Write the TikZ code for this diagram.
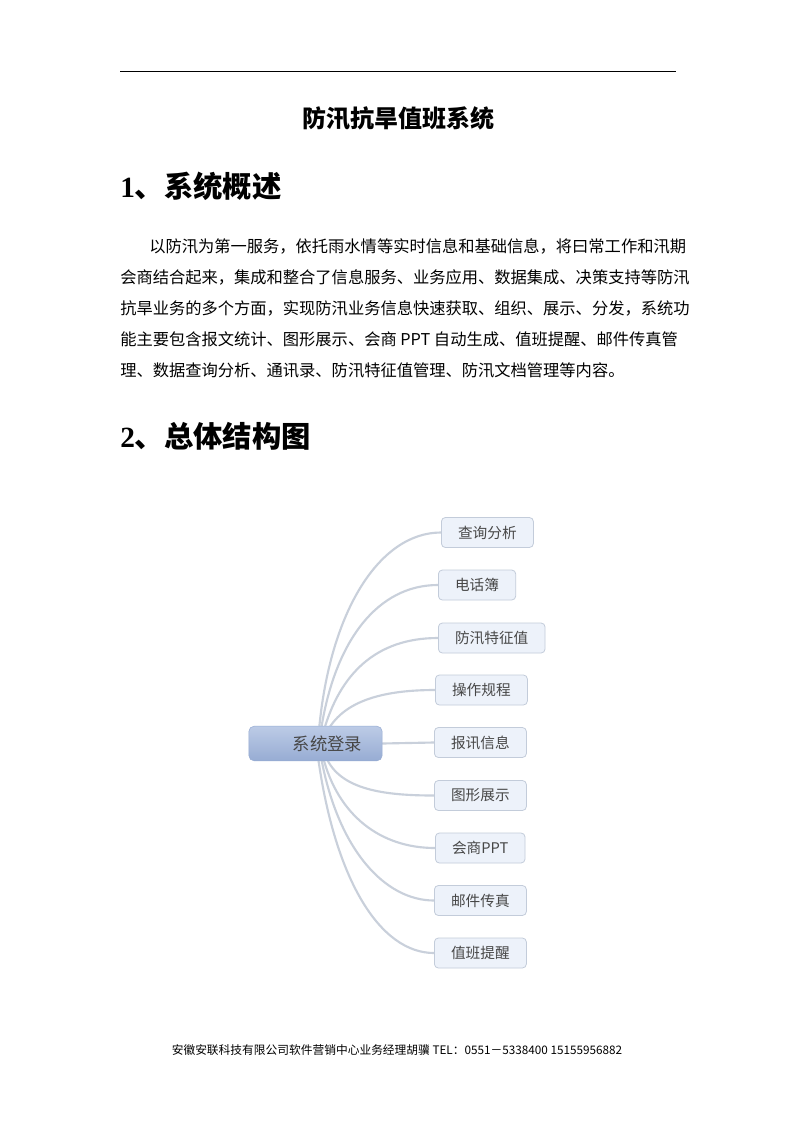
\documentclass[tikz,border=0pt]{standalone}
\usepackage{fontspec}
\setmainfont{Liberation Serif}
\newfontfamily\cjk{Noto Sans CJK SC}
\usetikzlibrary{positioning,backgrounds}
\definecolor{LinkGrey}{HTML}{C9D0DB}
\definecolor{LeafFill}{HTML}{EDF2FA}
\definecolor{LeafLine}{HTML}{C3CCDA}
\definecolor{RootTop}{HTML}{BCCBE6}
\definecolor{RootBottom}{HTML}{97ACD3}
\definecolor{TextGrey}{HTML}{474747}

\begin{document}
\begin{tikzpicture}[x=0.75pt,y=-0.75pt,
    heading/.style={anchor=west, inner sep=0pt, font=\fontsize{22}{22}\selectfont\bfseries},
    bodyline/.style={anchor=west, inner sep=0pt, font=\cjk\fontsize{12.2}{12.2}\selectfont},
    leaf/.style={draw=LeafLine, fill=LeafFill, rounded corners=3pt, line width=0.6pt, minimum height=22.5pt, inner xsep=12.5pt, anchor=west, text=TextGrey, font=\cjk\fontsize{11}{11}\selectfont},
    link/.style={draw=LinkGrey, line width=1.6pt, line cap=round}]
  \useasboundingbox (0,0) rectangle (794,1123);
  \draw[line width=0.75pt] (120,72) -- (676,72);

  % page text
  \node[font=\cjk\fontsize{18}{18}\selectfont\bfseries] (title) at (398,118) {防汛抗旱值班系统};
  \node[heading] (sec1) at (120,186) {1\cjk 、系统概述};
  \node[bodyline] (par1) at (149,246) {以防汛为第一服务，依托雨水情等实时信息和基础信息，将曰常工作和汛期};
  \node[bodyline] (par2) at (120,277) {会商结合起来，集成和整合了信息服务、业务应用、数据集成、决策支持等防汛};
  \node[bodyline] (par3) at (120,308) {抗旱业务的多个方面，实现防汛业务信息快速获取、组织、展示、分发，系统功};
  \node[bodyline] (par4) at (120,339) {能主要包含报文统计、图形展示、会商 PPT 自动生成、值班提醒、邮件传真管};
  \node[bodyline] (par5) at (120,370) {理、数据查询分析、通讯录、防汛特征值管理、防汛文档管理等内容。};
  \node[heading] (sec2) at (120,436) {2\cjk 、总体结构图};

  % mind map
  \node[rounded corners=4pt, top color=RootTop, bottom color=RootBottom, draw=RootBottom, minimum width=100pt, minimum height=26pt, text=TextGrey, font=\cjk\fontsize{13}{13}\selectfont] (login) at (315.5,743.5) {\hspace{18pt}系统登录};
  \node[leaf] (query) at (441,532.5) {查询分析};
  \node[leaf] (phone) at (438,585) {电话簿};
  \node[leaf] (feature) at (438,638) {防汛特征值};
  \node[leaf] (rules) at (435,690) {操作规程};
  \node[leaf] (report) at (434,742.5) {报讯信息};
  \node[leaf] (graph) at (434,795.5) {图形展示};
  \node[leaf] (meeting) at (435,848) {会商PPT};
  \node[leaf] (mail) at (434,900.5) {邮件传真};
  \node[leaf] (remind) at (434,953) {值班提醒};

  \coordinate (up1) at (319,730);
  \coordinate (up2) at (321,730);
  \coordinate (up3) at (324,730);
  \coordinate (up4) at (328,730);
  \coordinate (dn1) at (326,757);
  \coordinate (dn2) at (323,757);
  \coordinate (dn3) at (321,757);
  \coordinate (dn4) at (318,757);

  \begin{scope}[on background layer]
    \fill[white] (0,0) rectangle (794,1123);
    \draw[link] (up1) .. controls (330,610) and (380,532.5) .. (query.west);
    \draw[link] (up2) .. controls (335,640) and (378,585) .. (phone.west);
    \draw[link] (up3) .. controls (340,675) and (375,638) .. (feature.west);
    \draw[link] (up4) .. controls (345,700) and (385,690) .. (rules.west);
    \draw[link] (login.east) -- (report.west);
    \draw[link] (dn1) .. controls (340,790) and (385,795.5) .. (graph.west);
    \draw[link] (dn2) .. controls (338,815) and (380,848) .. (meeting.west);
    \draw[link] (dn3) .. controls (338,850) and (385,900.5) .. (mail.west);
    \draw[link] (dn4) .. controls (335,880) and (380,953) .. (remind.west);
  \end{scope}

  \node[font=\cjk\fontsize{8.8}{8.8}\selectfont, inner sep=0pt] (footer) at (397,1050) {安徽安联科技有限公司软件营销中心业务经理胡骥 TEL：0551－5338400 15155956882};
\end{tikzpicture}
\end{document}
